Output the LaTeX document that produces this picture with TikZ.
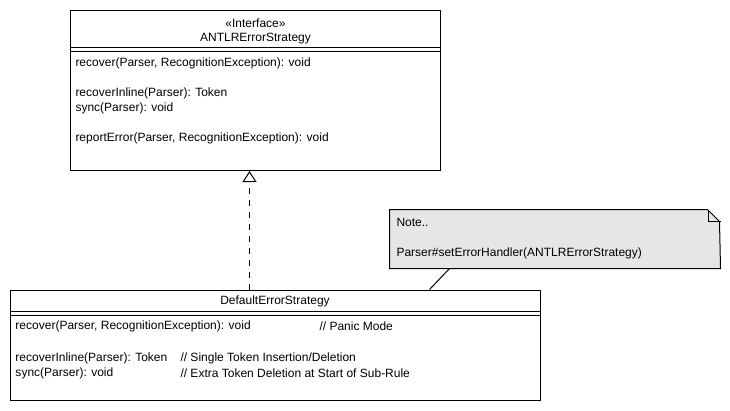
\documentclass[tikz,border=0pt]{standalone}
\usepackage{fontspec}
\setmainfont{Liberation Sans}
\usepackage{tikz}
\usetikzlibrary{arrows.meta}

\definecolor{noteGray}{HTML}{E6E6E6}

\begin{document}
\begin{tikzpicture}[x=1pt, y=-1pt, line width=1pt, font=\fontsize{12}{14}\selectfont]
  \useasboundingbox (0,0) rectangle (730,410);

  \tikzstyle{myBox}=[draw, rectangle, inner sep=0pt];
  \tikzstyle{myTxt}=[anchor=west, inner sep=0pt];
  \tikzstyle{myTtl}=[inner sep=0pt, align=center];

  % interface
  \node[myBox, minimum width=370, minimum height=160] (intf) at (255.5,90.5) {};
  \node[myTtl] (intfName) at (255.5,31) {«Interface»\\ANTLRErrorStrategy};
  \draw (intf.north west) ++(0,37.5) -- ++(370,0);
  \draw (intf.north west) ++(0,41.5) -- ++(370,0);
  \node[myTxt] (i1) at (75,63) {recover(Parser, RecognitionException): void};
  \node[myTxt] (i2) at (75,93) {recoverInline(Parser): Token};
  \node[myTxt] (i3) at (75,108) {sync(Parser): void};
  \node[myTxt] (i4) at (75,138) {reportError(Parser, RecognitionException): void};

  % default strategy
  \node[myBox, minimum width=530, minimum height=110] (dflt) at (275,345) {};
  \node[myTtl] (dfltName) at (275,301) {DefaultErrorStrategy};
  \draw (dflt.north west) ++(0,22) -- ++(530,0);
  \draw (dflt.north west) ++(0,26) -- ++(530,0);
  \node[myTxt] (d1) at (15,326) {recover(Parser, RecognitionException): void};
  \node[myTxt] (c1) at (319,326) {// Panic Mode};
  \node[myTxt] (d2) at (15,358) {recoverInline(Parser): Token};
  \node[myTxt] (c2) at (180,358) {// Single Token Insertion/Deletion};
  \node[myTxt] (d3) at (15,373) {sync(Parser): void};
  \node[myTxt] (c3) at (180,373) {// Extra Token Deletion at Start of Sub-Rule};

  % note
  \node[minimum width=330, minimum height=58, inner sep=0pt] (note) at (555,239) {};
  \filldraw[fill=noteGray] (note.north west) -- ++(318,0) -- ++(12,12) -- (note.south east) -- (note.south west) -- cycle;
  \draw (note.north east) ++(-12,0) -- ++(0,12) -- ++(12,0);
  \node[myTxt] (n1) at (396,222) {Note..};
  \node[myTxt] (n2) at (396,253) {Parser\#setErrorHandler(ANTLRErrorStrategy)};

  % realization + anchor
  \draw[dash pattern=on 6pt off 6pt, -{Triangle[open, length=11pt, width=14pt]}]
    ([xshift=240pt]dflt.north west) -- ([xshift=179.5pt]intf.south west);
  \draw ([xshift=420pt]dflt.north west) -- ([xshift=60pt]note.south west);
\end{tikzpicture}
\end{document}
